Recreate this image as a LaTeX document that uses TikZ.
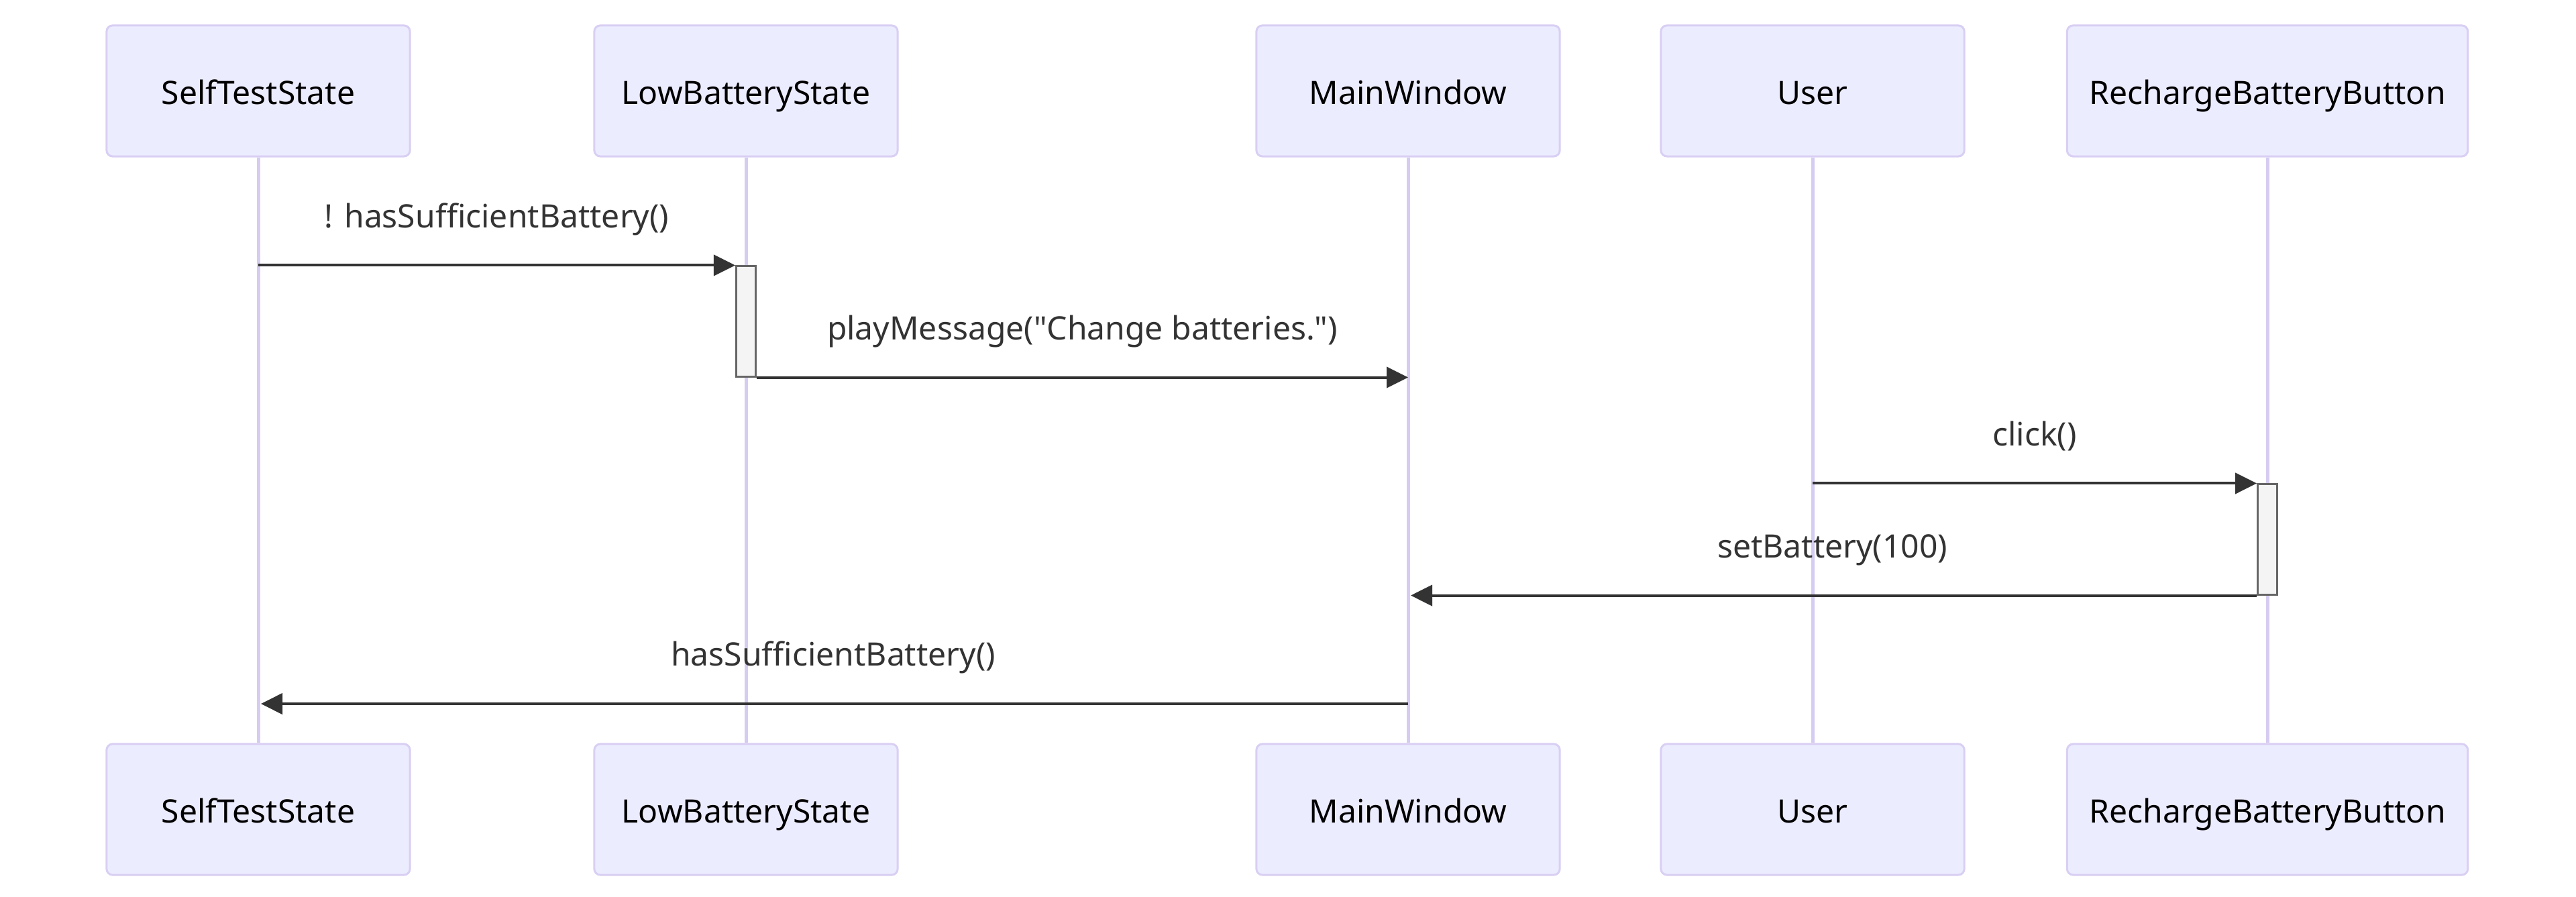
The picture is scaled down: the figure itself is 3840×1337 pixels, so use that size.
\documentclass[tikz,border=0pt]{standalone}
\usepackage{fontspec}
\newfontfamily\notofont{Noto Sans}
\usetikzlibrary{arrows.meta}
\definecolor{actorfill}{HTML}{ECECFF}
\definecolor{actorborder}{HTML}{D9CFF3}
\definecolor{lifecol}{HTML}{D6CCF2}
\definecolor{msgcol}{HTML}{333333}
\definecolor{actfill}{HTML}{F4F4F4}
\definecolor{actborder}{HTML}{666666}
\newcommand\dfont{\notofont\fontsize{13.66pt}{16pt}\selectfont}
\begin{document}
\begin{tikzpicture}[x=0.01cm,y=-0.01cm,
 actorbox/.style={draw=actorborder, fill=actorfill, line width=0.03cm, rounded corners=0.09cm, minimum height=1.95cm, inner sep=0pt, text height=0.44cm, text depth=0.05cm, font=\dfont, text=black},
 lifeline/.style={draw=lifecol, line width=0.05cm},
 actbox/.style={draw=actborder, fill=actfill, line width=0.03cm, minimum width=0.29cm, minimum height=1.64cm, inner sep=0pt},
 msg/.style={draw=msgcol, line width=0.04cm, -{Triangle[length=0.32cm,width=0.31cm]}},
 lbl/.style={font=\dfont, text=msgcol, anchor=base, inner sep=0pt, yshift=0.56cm}]
\fill[white] (0,0) rectangle (3840,1337);
\useasboundingbox (0,0) rectangle (3840,1337);

% top actors
\node[actorbox, minimum width=4.52cm] (stT) at (385,135.5) {SelfTestState};
\node[actorbox, minimum width=4.52cm] (lbT) at (1112,135.5) {LowBatteryState};
\node[actorbox, minimum width=4.52cm] (mwT) at (2099,135.5) {MainWindow};
\node[actorbox, minimum width=4.52cm] (usT) at (2702,135.5) {User};
\node[actorbox, minimum width=5.97cm] (rbT) at (3380,135.5) {RechargeBatteryButton};
% bottom actors
\node[actorbox, minimum width=4.52cm] (stB) at (385,1206.5) {SelfTestState};
\node[actorbox, minimum width=4.52cm] (lbB) at (1112,1206.5) {LowBatteryState};
\node[actorbox, minimum width=4.52cm] (mwB) at (2099,1206.5) {MainWindow};
\node[actorbox, minimum width=4.52cm] (usB) at (2702,1206.5) {User};
\node[actorbox, minimum width=5.97cm] (rbB) at (3380,1206.5) {RechargeBatteryButton};

% lifelines
\draw[lifeline] (stT.south) -- (stB.north);
\draw[lifeline] (lbT.south) -- (lbB.north);
\draw[lifeline] (mwT.south) -- (mwB.north);
\draw[lifeline] (usT.south) -- (usB.north);
\draw[lifeline] (rbT.south) -- (rbB.north);

% activations
\node[actbox] (acA) at (1112,479) {};
\node[actbox] (acR) at (3380,804) {};

\coordinate (row5) at (0,1049);

% messages
\draw[msg] (stT |- acA.north) -- node[lbl]{! hasSufficientBattery()} (acA.north west);
\draw[msg] (acA.south east) -- node[lbl]{playMessage("Change batteries.")} (mwT |- acA.south);
\draw[msg] (usT |- acR.north) -- node[lbl]{click()} (acR.north west);
\draw[msg, shorten >=0.04cm] (acR.south west) -- node[lbl]{setBattery(100)} (mwT |- acR.south);
\draw[msg, shorten >=0.04cm] (mwT |- row5) -- node[lbl]{hasSufficientBattery()} (stT |- row5);
\end{tikzpicture}
\end{document}
